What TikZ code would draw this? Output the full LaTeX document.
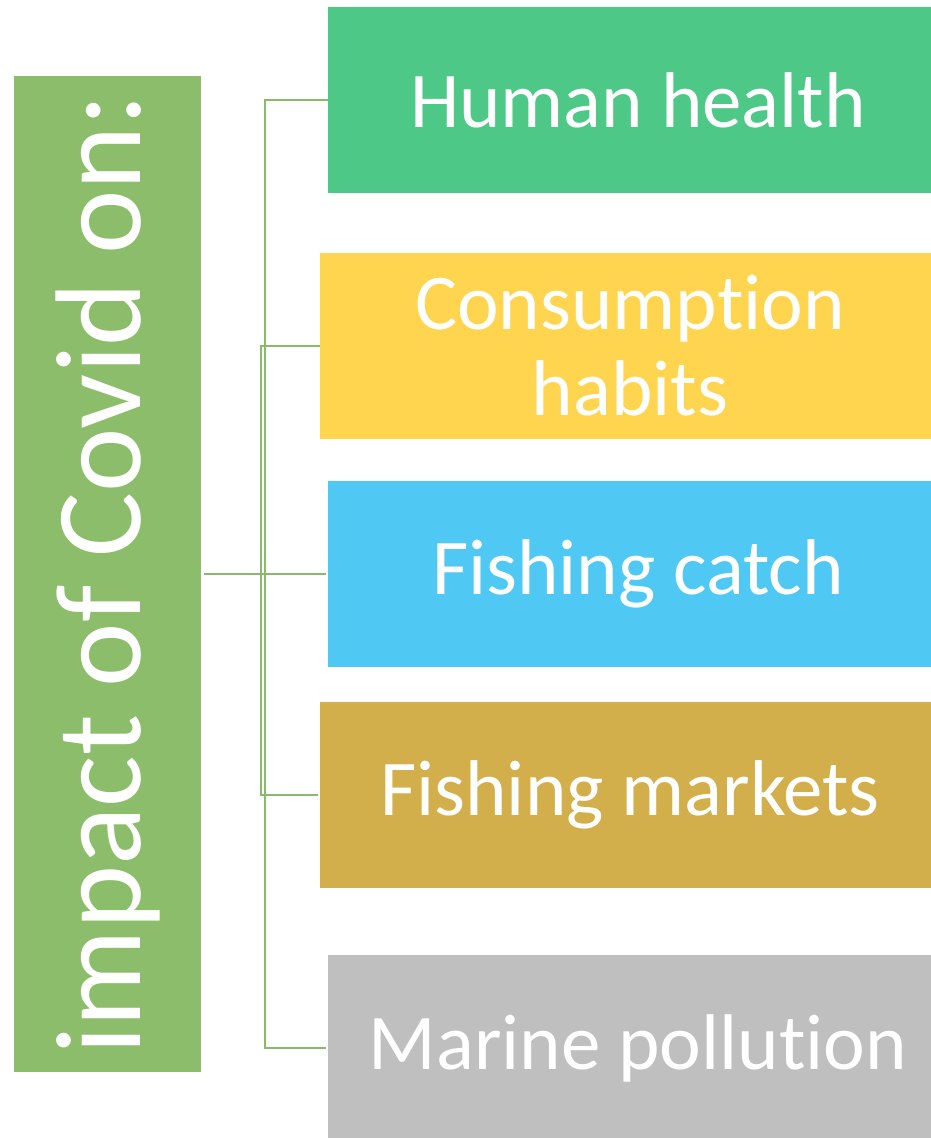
\documentclass[tikz,border=0pt]{standalone}
\usepackage{fontspec}
\setmainfont{Carlito}[Ligatures=NoCommon]
\definecolor{hubgreen}{HTML}{8CBD6A}
\definecolor{linkgreen}{HTML}{8BBA6F}
\definecolor{healthgreen}{HTML}{4EC886}
\definecolor{habitsyellow}{HTML}{FFD44F}
\definecolor{catchblue}{HTML}{4FC8F4}
\definecolor{marketgold}{HTML}{D2AF4B}
\definecolor{pollutiongrey}{HTML}{BFBFBF}
\begin{document}
\begin{tikzpicture}[x=1pt,y=-1pt,
 topic/.style={minimum width=620, minimum height=186, inner sep=0, text=white,
   align=center, font=\fontsize{79}{86}\selectfont},
 link/.style={draw=linkgreen, line width=2.5pt, shorten >=2pt}]
\useasboundingbox (0,0) rectangle (930,1138);
\node[fill=hubgreen, rotate=90, minimum width=996, minimum height=187, inner sep=0,
  text=white, font=\fontsize{122}{130}\selectfont] (hub) at (107.5,574) {impact of Covid on:};
\foreach \n/\xl/\yc/\col/\txt in {
 hh/328/100/healthgreen/Human health,
 ch/320/346/habitsyellow/{Consumption\\habits},
 fc/328/574/catchblue/Fishing catch,
 fm/320/795/marketgold/Fishing markets,
 mp/328/1048/pollutiongrey/Marine pollution}
 \node[topic, fill=\col] (\n) at (\xl+310,\yc) {\txt};
\draw[link] (hh.west) -- ++(-63,0) |- (mp.west);
\draw[link] (ch.west) -- ++(-59,0) |- (fm.west);
\draw[link, shorten <=3pt] (hub.south) -- (fc.west);
\end{tikzpicture}
\end{document}
